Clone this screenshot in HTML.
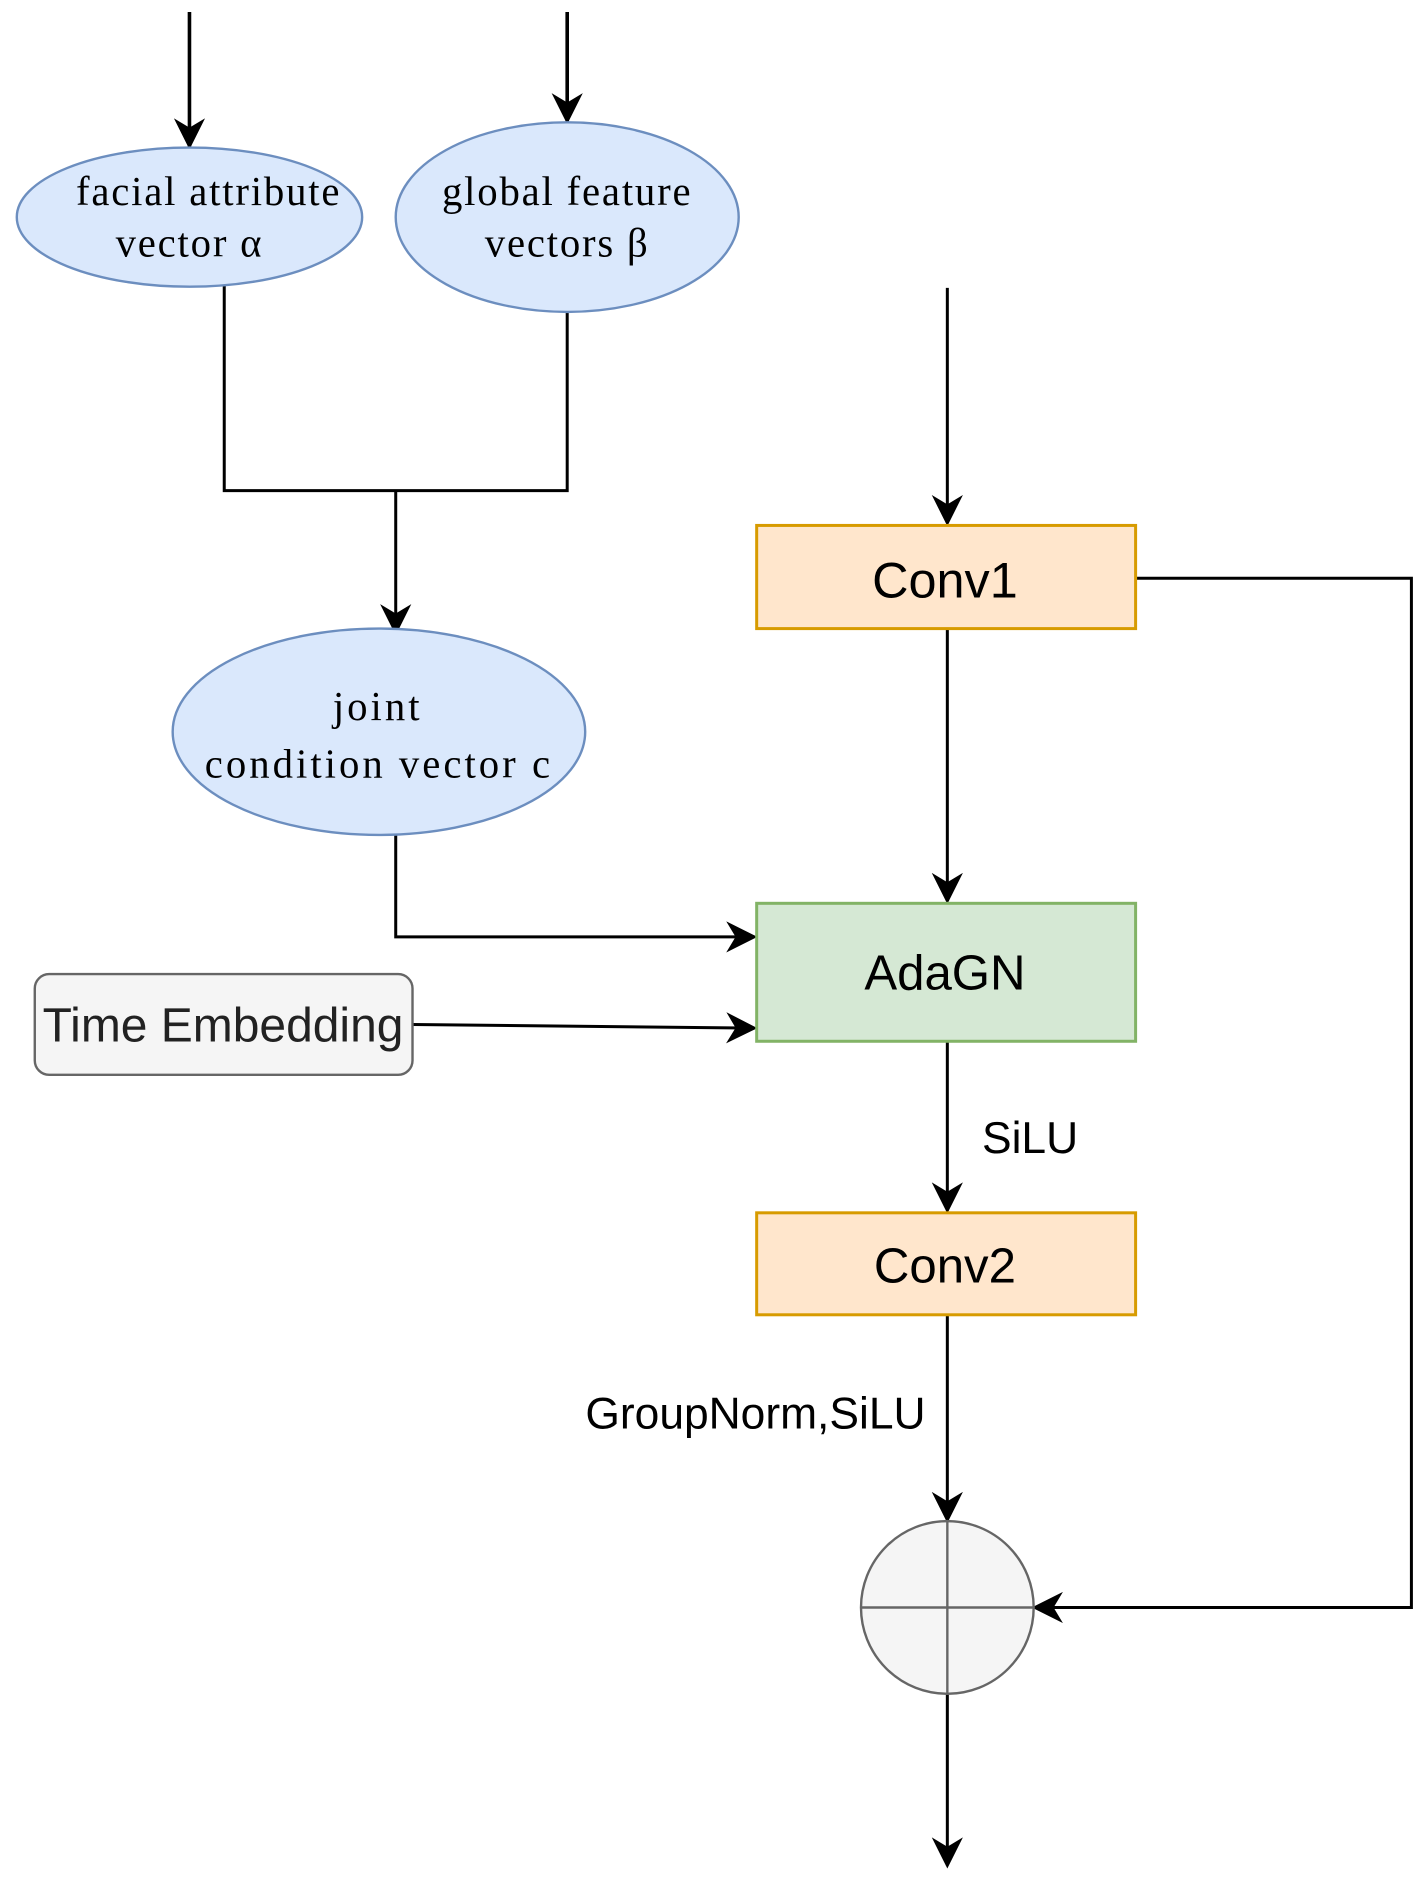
<!DOCTYPE html>
<html><head><meta charset="utf-8"><style>html,body{margin:0;padding:0;background:#fff}svg{display:block}</style></head>
<body>
<svg width="1427" height="1887" viewBox="0 0 1190 1573" preserveAspectRatio="none" xmlns="http://www.w3.org/2000/svg">
<defs>
<marker id="b" viewBox="0 0 10 10" refX="9" refY="5" markerWidth="26" markerHeight="26" markerUnits="userSpaceOnUse" orient="auto"><path d="M0,0 L10,5 L0,10 L3,5 Z" fill="#000"/></marker>
</defs>
<g stroke="#000" stroke-width="2.5" fill="none">
<line x1="158" y1="10" x2="158" y2="122" marker-end="url(#b)" stroke-width="3"/>
<line x1="473" y1="10" x2="473" y2="101" marker-end="url(#b)" stroke-width="3"/>
<polyline points="187,238 187,409 473,409 473,260"/>
<line x1="330" y1="409" x2="330" y2="527" marker-end="url(#b)"/>
<polyline points="330,696 330,781 629,781" marker-end="url(#b)"/>
<line x1="344" y1="854" x2="629" y2="857" marker-end="url(#b)"/>
<line x1="790" y1="240" x2="790" y2="436" marker-end="url(#b)"/>
<line x1="790" y1="524" x2="790" y2="751" marker-end="url(#b)"/>
<line x1="790" y1="868" x2="790" y2="1009" marker-end="url(#b)"/>
<line x1="790" y1="1096" x2="790" y2="1267" marker-end="url(#b)"/>
<polyline points="947,482 1177,482 1177,1340 863,1340" marker-end="url(#b)"/>
<line x1="790" y1="1412" x2="790" y2="1555" marker-end="url(#b)"/>
</g>
<g fill="#dae8fc" stroke="#6c8ebf" stroke-width="2">
<ellipse cx="158" cy="181" rx="144" ry="58"/>
<ellipse cx="473" cy="181" rx="143" ry="79"/>
<ellipse cx="316" cy="610" rx="172" ry="86"/>
</g>
<g font-family="Liberation Serif, serif" font-size="34" fill="#000" text-anchor="middle">
<text x="174" y="171" letter-spacing="1.5">facial attribute</text>
<text x="158" y="214" letter-spacing="1.5">vector α</text>
<text x="473" y="171" letter-spacing="1.5">global feature</text>
<text x="473" y="214" letter-spacing="1.5">vectors β</text>
<text x="315" y="600" letter-spacing="2.5">joint</text>
<text x="316" y="648" letter-spacing="2.5">condition vector c</text>
</g>
<rect x="29" y="812" width="315" height="84" rx="12" fill="#f5f5f5" stroke="#666" stroke-width="2"/>
<rect x="631" y="438" width="316" height="86" fill="#ffe6cc" stroke="#d79b00" stroke-width="2.5"/>
<rect x="631" y="753" width="316" height="115" fill="#d5e8d4" stroke="#82b366" stroke-width="2.5"/>
<rect x="631" y="1011" width="316" height="85" fill="#ffe6cc" stroke="#d79b00" stroke-width="2.5"/>
<circle cx="790" cy="1340" r="72" fill="#f5f5f5" stroke="#666" stroke-width="2"/>
<line x1="718" y1="1340" x2="862" y2="1340" stroke="#666" stroke-width="2"/>
<line x1="790" y1="1268" x2="790" y2="1412" stroke="#666" stroke-width="2"/>
<g font-family="Liberation Sans, sans-serif" fill="#000" text-anchor="middle">
<text x="186" y="868" font-size="40" fill="#222">Time Embedding</text>
<text x="788" y="498" font-size="42">Conv1</text>
<text x="788" y="825" font-size="41">AdaGN</text>
<text x="788" y="1069" font-size="41">Conv2</text>
<text x="859" y="961" font-size="37">SiLU</text>
<text x="630" y="1191" font-size="37">GroupNorm,SiLU</text>
</g>
</svg>
</body></html>
